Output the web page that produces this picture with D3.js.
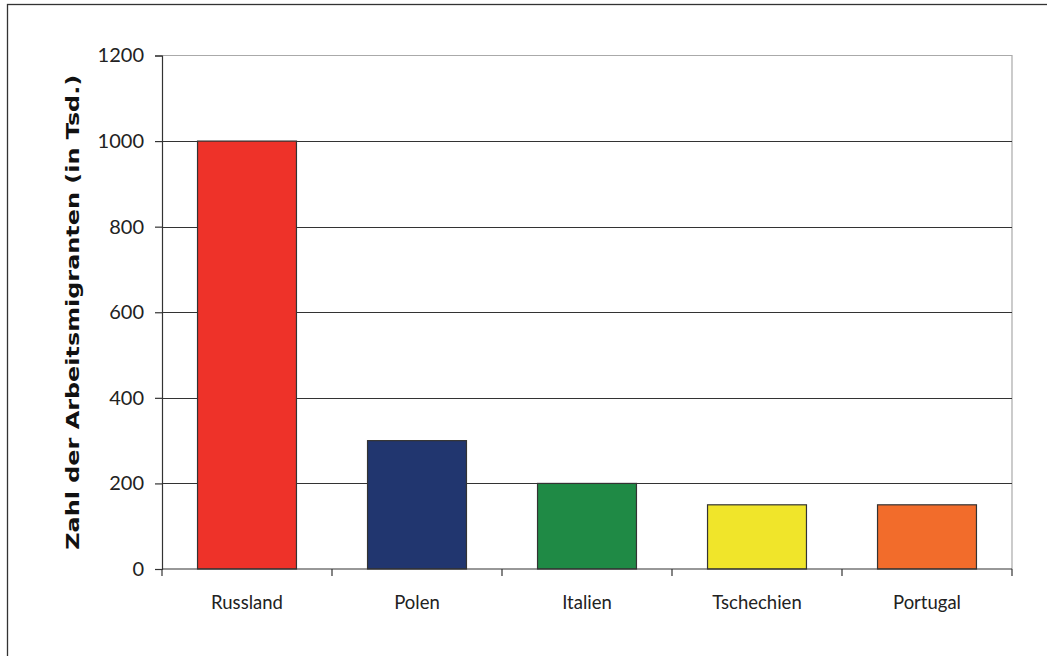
<!DOCTYPE html>
<html><head><meta charset="utf-8">
<script src="https://cdn.jsdelivr.net/npm/d3@7"></script>
<style>body{margin:0;background:#fff}svg{display:block}</style>
</head><body>
<script>
const categories = ["Russland","Polen","Italien","Tschechien","Portugal"];
const values = [1000,300,200,150,150];
const colors = ["#EE3229","#21366F","#1F8A45","#F0E52A","#F26C2B"];
const yTicks = [0,200,400,600,800,1000,1200];
const yTitle = "Zahl der Arbeitsmigranten (in Tsd.)";

const W=1047,H=656;
const svg=d3.select("body").append("svg").attr("width",W).attr("height",H);
const font="'Lato','Open Sans',sans-serif";
svg.append("rect").attr("x",7.5).attr("y",4.5).attr("width",W).attr("height",H).attr("fill","#fff").attr("stroke","#333").attr("stroke-width",1.3);

const L=162,R=1012,T=55.5,B=569;
const x=d3.scaleBand().domain(categories).range([L,R]).paddingInner(0.418).paddingOuter(0.209);
const y=d3.scaleLinear().domain([0,1200]).range([B,T]);

svg.append("path").attr("d",`M${L},${T}H${R}V${B}`).attr("fill","none").attr("stroke","#aaa").attr("stroke-width",1.2);
svg.append("g").selectAll("line").data(yTicks.filter(d=>d>0&&d<1200)).join("line")
 .attr("x1",L).attr("x2",R).attr("y1",d=>Math.round(y(d))+0.5).attr("y2",d=>Math.round(y(d))+0.5)
 .attr("stroke","#333").attr("stroke-width",1);

svg.append("g").selectAll("rect").data(categories).join("rect")
 .attr("x",d=>x(d)).attr("width",x.bandwidth())
 .attr("y",(d,i)=>y(values[i])).attr("height",(d,i)=>B-y(values[i]))
 .attr("fill",(d,i)=>colors[i]).attr("stroke","#333").attr("stroke-width",1.2);

const ya=svg.append("g").attr("transform",`translate(${L},0)`)
 .call(d3.axisLeft(y).tickValues(yTicks).tickSize(7).tickPadding(11).tickFormat(d3.format("d")));
ya.selectAll("path,line").attr("stroke","#333").attr("stroke-width",1.2);
ya.selectAll("text").attr("font-family",font).attr("font-size",20).attr("fill","#222");

const xa=svg.append("g").attr("transform",`translate(0,${B})`);
xa.append("line").attr("x1",L).attr("x2",R).attr("stroke","#333").attr("stroke-width",1.2);
xa.selectAll("line.t").data(d3.range(categories.length+1)).join("line").attr("class","t")
 .attr("x1",i=>L+i*(R-L)/categories.length).attr("x2",i=>L+i*(R-L)/categories.length)
 .attr("y1",0).attr("y2",7).attr("stroke","#333").attr("stroke-width",1.2);
xa.selectAll("text").data(categories).join("text")
 .attr("x",d=>x(d)+x.bandwidth()/2).attr("y",40)
 .attr("text-anchor","middle").attr("font-family",font).attr("font-size",18.5).attr("fill","#222").text(d=>d);

svg.append("text").attr("transform",`translate(79,${(T+B)/2+0}) rotate(-90)`)
 .attr("text-anchor","middle").attr("font-family","'DejaVu Sans',sans-serif").attr("font-weight","bold")
 .attr("font-size",18).attr("fill","#111")
 .attr("textLength",475).attr("lengthAdjust","spacingAndGlyphs").text(yTitle);
</script>
</body></html>
